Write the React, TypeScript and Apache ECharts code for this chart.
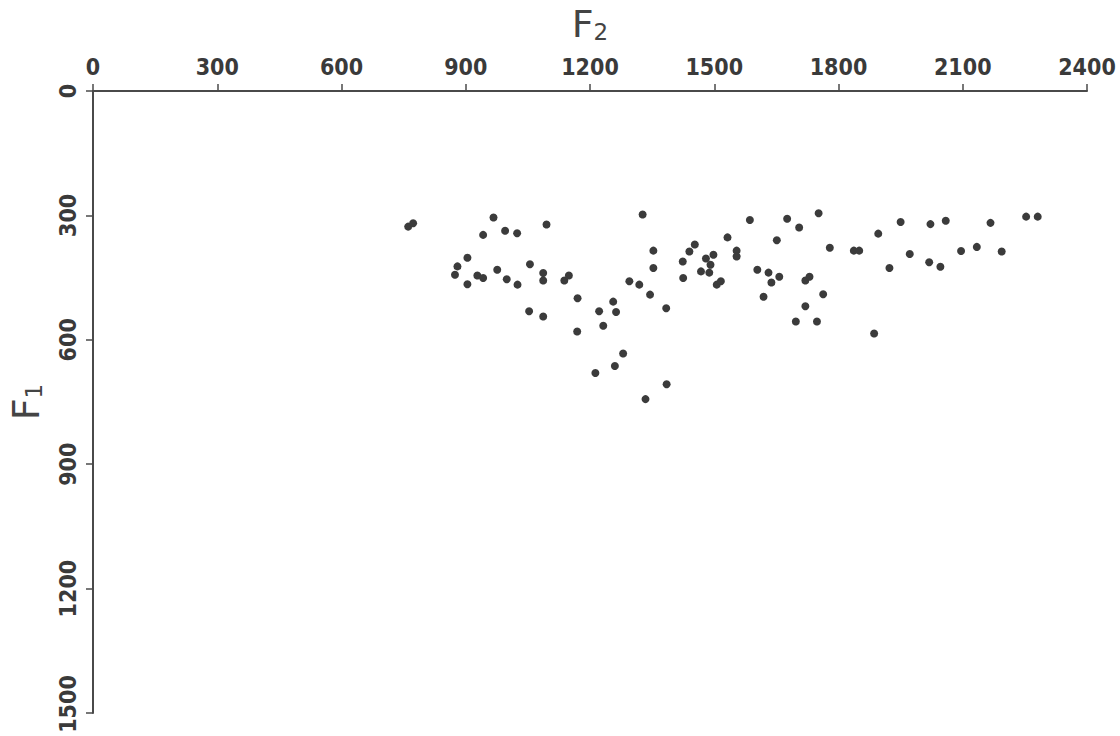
import React, { useEffect, useRef } from "react";
import * as echarts from "echarts";

// F2 (Hz) values of the measured vowels
const f2Values: number[] = [
  761, 773, 967, 942, 995, 1024, 1095, 904, 880, 874,
  904, 928, 942, 976, 999, 1025, 1055, 1087, 1087, 1138,
  1149, 1170, 1053, 1087, 1169, 1222, 1256, 1263, 1232, 1280,
  1260, 1213, 1295, 1319, 1327, 1353, 1353, 1345, 1384, 1385,
  1334, 1453, 1440, 1424, 1425, 1480, 1498, 1491, 1468, 1488,
  1506, 1516, 1532, 1554, 1554, 1586, 1604, 1631, 1638, 1657,
  1619, 1651, 1676, 1705, 1752, 1779, 1837, 1850, 1896, 1720,
  1730, 1763, 1720, 1697, 1748, 1886, 1950, 2022, 2059, 2167,
  2253, 2281, 1972, 1923, 2019, 2046, 2096, 2134, 2194,
];

// F1 (Hz) values, same order as f2Values
const f1Values: number[] = [
  327, 319, 305, 347, 337, 343, 322, 402, 423, 443,
  466, 445, 451, 431, 454, 467, 418, 439, 457, 457,
  445, 500, 531, 544, 580, 531, 508, 533, 566, 633,
  663, 680, 459, 467, 298, 385, 427, 491, 524, 707,
  743, 370, 387, 411, 451, 404, 395, 419, 435, 438,
  467, 459, 353, 385, 399, 311, 431, 438, 462, 448,
  496, 360, 308, 329, 295, 378, 385, 385, 344, 457,
  448, 490, 519, 556, 556, 585, 316, 321, 313, 318,
  303, 303, 393, 427, 413, 424, 386, 376, 387,
];

const xTicks: number[] = [0, 300, 600, 900, 1200, 1500, 1800, 2100, 2400];
const yTicks: number[] = [0, 300, 600, 900, 1200, 1500];

const labelFont = {
  fontFamily: "'DejaVu Sans Condensed', 'DejaVu Sans', sans-serif",
  fontWeight: "bold" as const,
  fontSize: 23,
  color: "#3a3a3a",
};

const nameRich = {
  a: { fontFamily: "'DejaVu Sans', sans-serif", fontSize: 38, color: "#444", verticalAlign: "bottom", lineHeight: 38 },
  b: { fontFamily: "'DejaVu Sans', sans-serif", fontSize: 23, color: "#444", verticalAlign: "bottom", lineHeight: 26 },
};

export default function App() {
  const ref = useRef<HTMLDivElement>(null);

  useEffect(() => {
    if (!ref.current) return;
    const chart = echarts.init(ref.current, undefined, { renderer: "svg" });
    const points = f2Values.map((x, i) => [x, f1Values[i]]);
    const axisLine = { show: true, lineStyle: { color: "#4a4a4a", width: 2 } };
    const tick = { show: true, inside: false, length: 7, lineStyle: { color: "#4a4a4a", width: 1.5 } };
    const yMax = yTicks[yTicks.length - 1];
    chart.setOption({
      animation: false,
      backgroundColor: "#ffffff",
      grid: { left: 93, right: 33, top: 91, bottom: 23, containLabel: false, outerBoundsMode: "none" },
      xAxis: {
        type: "value",
        position: "top",
        min: xTicks[0],
        max: xTicks[xTicks.length - 1],
        interval: 300,
        name: "{a|F}{b|2}",
        nameLocation: "middle",
        nameGap: 48,
        nameTextStyle: { rich: nameRich },
        axisLine,
        axisTick: tick,
        axisLabel: { ...labelFont, margin: 13, formatter: (v: number) => String(v) },
        splitLine: { show: false },
      },
      yAxis: {
        type: "value",
        inverse: true,
        min: yTicks[0],
        max: yMax,
        interval: 300,
        name: "{a|F}{b|1}",
        nameLocation: "middle",
        nameGap: 48,
        nameRotate: 90,
        nameTextStyle: { rich: nameRich },
        axisLine,
        axisTick: tick,
        axisLabel: {
          ...labelFont,
          margin: 14,
          rotate: 90,
          formatter: (v: number) => (v === yMax ? `{m|${v}}` : String(v)),
          rich: { m: { ...labelFont, padding: [0, 0, 0, 18] } },
        },
        splitLine: { show: false },
      },
      series: [
        {
          type: "scatter",
          data: points,
          symbol: "circle",
          symbolSize: 8,
          itemStyle: { color: "#3b3b3b", opacity: 1 },
        },
      ],
    });
    return () => chart.dispose();
  }, []);

  return <div ref={ref} style={{ width: 1120, height: 736, position: "absolute", left: 0, top: 0 }} />;
}
